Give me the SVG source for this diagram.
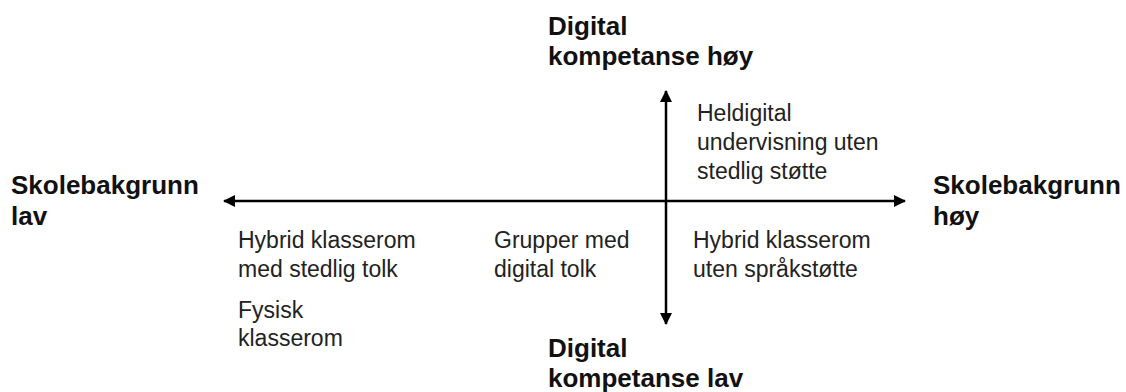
<svg xmlns="http://www.w3.org/2000/svg" width="1126" height="392" viewBox="0 0 1126 392">
<style>
.b{font-family:"Liberation Sans",Arial,sans-serif;font-weight:bold;font-size:26px;fill:#111}
.r{font-family:"Liberation Sans",Arial,sans-serif;font-size:23px;fill:#222}
.ax{stroke:#000;stroke-width:2.5;fill:none}
</style>
<defs>
<marker id="ah" markerUnits="userSpaceOnUse" markerWidth="14" markerHeight="14" refX="11" refY="6" orient="auto">
<path d="M0,0 L12,6 L0,12 Z" fill="#000"/>
</marker>
</defs>
<g id="connectors">
<line class="ax" x1="666" y1="201" x2="224" y2="201" marker-end="url(#ah)"/>
<line class="ax" x1="666" y1="201" x2="905" y2="201" marker-end="url(#ah)"/>
<line class="ax" x1="666" y1="201" x2="666" y2="91" marker-end="url(#ah)"/>
<line class="ax" x1="666" y1="201" x2="666" y2="324" marker-end="url(#ah)"/>
</g>
<g id="axis-top"><text class="b" x="548" y="35">Digital</text><text class="b" x="548" y="65">kompetanse høy</text></g>
<g id="axis-bottom"><text class="b" x="548" y="357">Digital</text><text class="b" x="548" y="387">kompetanse lav</text></g>
<g id="axis-left"><text class="b" x="11" y="194">Skolebakgrunn</text><text class="b" x="11" y="225">lav</text></g>
<g id="axis-right"><text class="b" x="933" y="194">Skolebakgrunn</text><text class="b" x="933" y="225">høy</text></g>
<g id="heldigital"><text class="r" x="697" y="121">Heldigital</text><text class="r" x="697" y="150">undervisning uten</text><text class="r" x="697" y="179">stedlig støtte</text></g>
<g id="hybrid-tolk"><text class="r" x="238" y="248">Hybrid klasserom</text><text class="r" x="238" y="277">med stedlig tolk</text></g>
<g id="fysisk"><text class="r" x="238" y="318">Fysisk</text><text class="r" x="238" y="346">klasserom</text></g>
<g id="grupper"><text class="r" x="494" y="248">Grupper med</text><text class="r" x="494" y="277">digital tolk</text></g>
<g id="hybrid-uten"><text class="r" x="693" y="248">Hybrid klasserom</text><text class="r" x="693" y="277">uten språkstøtte</text></g>
</svg>
